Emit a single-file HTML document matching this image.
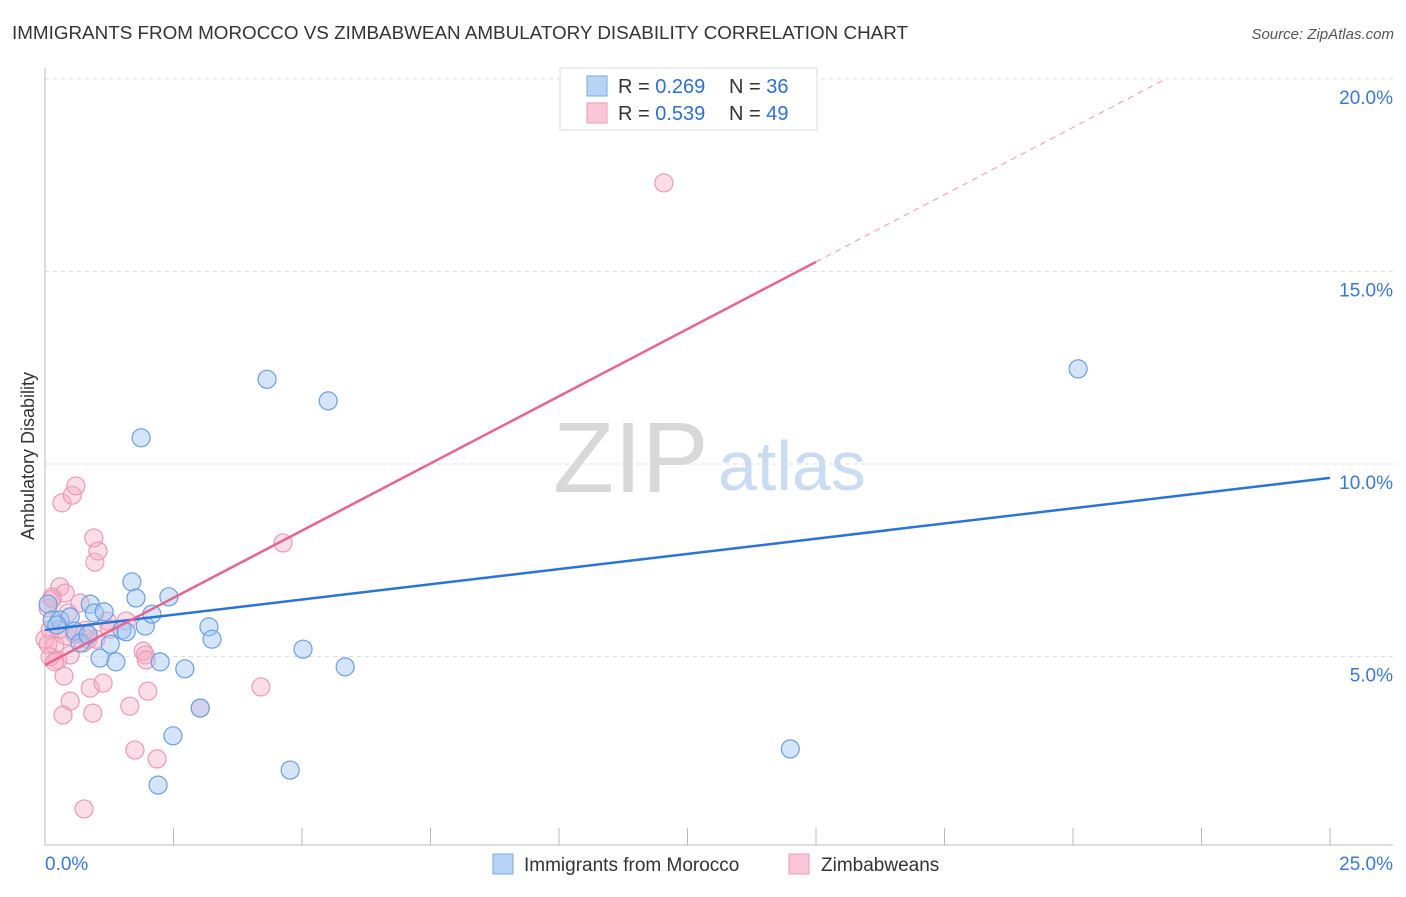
<!DOCTYPE html>
<html><head><meta charset="utf-8"><style>
body{margin:0;background:#fff;font-family:"Liberation Sans",sans-serif;}
svg text{font-family:"Liberation Sans",sans-serif;}
</style></head><body>
<svg id="chart" width="1406" height="892" xmlns="http://www.w3.org/2000/svg">
<text x="12" y="39" font-size="18" fill="#333" textLength="896" lengthAdjust="spacingAndGlyphs">IMMIGRANTS FROM MOROCCO VS ZIMBABWEAN AMBULATORY DISABILITY CORRELATION CHART</text>
<text x="1394" y="39" font-size="15" fill="#555" text-anchor="end" font-style="italic">Source: ZipAtlas.com</text>
<text x="553" y="492" font-size="100" fill="#d8d8d8" font-family="Liberation Serif,serif">ZIP</text>
<text x="718" y="490" font-size="70" fill="#c9dcf2">atlas</text>
<text transform="translate(34,456) rotate(-90)" font-size="18" fill="#333" text-anchor="middle">Ambulatory Disability</text>
<g id="grid"></g><g id="axes"></g><g id="marks"></g>
<g>
<rect x="560" y="68" width="257" height="62" fill="#fff" stroke="#ddd"/>
<rect x="587" y="76" width="20" height="20" fill="#b8d4f5" stroke="#7aa8e3"/>
<rect x="587" y="103" width="20" height="20" fill="#f9c6d6" stroke="#ec9ab4"/>
<text x="618" y="93" font-size="20" fill="#333">R = <tspan fill="#2f6fd0">0.269</tspan></text>
<text x="729" y="93" font-size="20" fill="#333">N = <tspan fill="#2f6fd0">36</tspan></text>
<text x="618" y="120" font-size="20" fill="#333">R = <tspan fill="#2f6fd0">0.539</tspan></text>
<text x="729" y="120" font-size="20" fill="#333">N = <tspan fill="#2f6fd0">49</tspan></text>
</g>
<g>
<rect x="493" y="854" width="20" height="20" fill="#b8d4f5" stroke="#7aa8e3"/>
<text x="524" y="871" font-size="19" fill="#333">Immigrants from Morocco</text>
<rect x="789" y="854" width="20" height="20" fill="#f9c6d6" stroke="#ec9ab4"/>
<text x="821" y="871" font-size="19" fill="#333">Zimbabweans</text>
</g>
</svg>
<script>
const blueX=[0.06,0.14,0.29,0.49,0.58,0.68,0.84,0.88,0.96,1.07,1.15,1.27,1.38,1.50,1.58,1.69,1.77,1.87,1.95,2.08,2.24,2.20,2.41,2.49,2.72,3.02,3.19,3.25,4.32,4.77,5.02,5.51,5.84,14.5,20.1,0.23];
const blueY=[6.36,5.95,5.95,6.03,5.66,5.35,5.56,6.36,6.13,4.96,6.16,5.32,4.86,5.69,5.64,6.94,6.52,10.68,5.79,6.10,4.86,1.66,6.55,2.94,4.68,3.66,5.77,5.45,12.20,2.05,5.19,11.64,4.73,2.60,12.47,5.82];
const pinkX=[0.14,0.06,0.10,0.19,0.25,0.29,0.39,0.33,0.37,0.45,0.41,0.49,0.35,0.53,0.60,0.49,0.68,0.74,0.84,0.88,0.93,0.95,0.97,1.03,0.99,1.13,1.21,0.76,1.65,1.75,1.91,1.95,1.97,2.00,2.18,1.58,3.02,4.20,4.63,12.04,0.10,0.19,0.00,0.06,0.29,0.58,1.26,0.14,0.78];
const pinkY=[6.55,6.26,5.69,5.30,4.91,6.81,6.65,8.99,4.49,6.13,5.53,3.84,3.48,9.19,9.43,5.04,6.39,5.35,5.45,4.18,3.53,8.08,7.45,7.74,5.45,4.31,5.92,1.04,3.71,2.57,5.14,5.04,4.91,4.10,2.34,5.92,3.66,4.21,7.95,17.30,4.99,4.86,5.45,5.32,5.71,5.58,5.71,6.49,5.68];
const yTicks=[5,10,15,20];
const yTickLabels=["5.0%","10.0%","15.0%","20.0%"];
const xTicks=[0,2.5,5,7.5,10,12.5,15,17.5,20,22.5,25];
const blueTrend=[0,5.69,25,9.64];
const pinkTrend=[0,4.78,15,15.25,21.8,20];
const X=v=>45+v*51.4, Y=v=>849-v*38.5;
const NS="http://www.w3.org/2000/svg";
function mk(p,t,a){const e=document.createElementNS(NS,t);for(const k in a)e.setAttribute(k,a[k]);document.getElementById(p).appendChild(e);return e;}
yTicks.forEach((v,i)=>{
 const l=mk('grid','line',{x1:45,x2:1393,y1:Y(v),y2:Y(v),stroke:'#ddd','stroke-dasharray':'4,4'});
 
 
 const t=mk('grid','text',{x:1393,y:Y(v)+25,'text-anchor':'end','font-size':19,fill:'#3a78d4'});
 t.textContent=yTickLabels[i];
 
 
});
let a=mk('axes','line',{x1:45,x2:1393,y1:845,y2:845,stroke:'#bbb'});


a=mk('axes','line',{x1:45,x2:45,y1:68,y2:845,stroke:'#bbb'});


xTicks.forEach(v=>{const t=mk('axes','line',{x1:X(v),x2:X(v),y1:828,y2:845,stroke:'#bbb'});
 
 });
let t=mk('axes','text',{x:45,y:870,'font-size':19,fill:'#3a78d4'});t.textContent='0.0%';


t=mk('axes','text',{x:1393,y:870,'font-size':19,fill:'#3a78d4','text-anchor':'end'});t.textContent='25.0%';


pinkX.forEach((x,i)=>{const c=mk('marks','circle',{cx:X(x),cy:Y(pinkY[i]),r:9,fill:'rgba(246,170,195,0.4)',stroke:'#eb9ab5','stroke-width':1.2});
 
 });
blueX.forEach((x,i)=>{const c=mk('marks','circle',{cx:X(x),cy:Y(blueY[i]),r:9,fill:'rgba(160,198,243,0.45)',stroke:'#6b9fe0','stroke-width':1.2});
 
 });
let L=mk('marks','line',{x1:X(blueTrend[0]),y1:Y(blueTrend[1]),x2:X(blueTrend[2]),y2:Y(blueTrend[3]),stroke:'#2a74d6','stroke-width':2.5});


L=mk('marks','line',{x1:X(pinkTrend[0]),y1:Y(pinkTrend[1]),x2:X(pinkTrend[2]),y2:Y(pinkTrend[3]),stroke:'#e8648f','stroke-width':2.5});


L=mk('marks','line',{x1:X(pinkTrend[2]),y1:Y(pinkTrend[3]),x2:X(pinkTrend[4]),y2:Y(pinkTrend[5]),stroke:'#f0a6bd','stroke-width':1.2,'stroke-dasharray':'6,5'});


</script>
</body></html>
